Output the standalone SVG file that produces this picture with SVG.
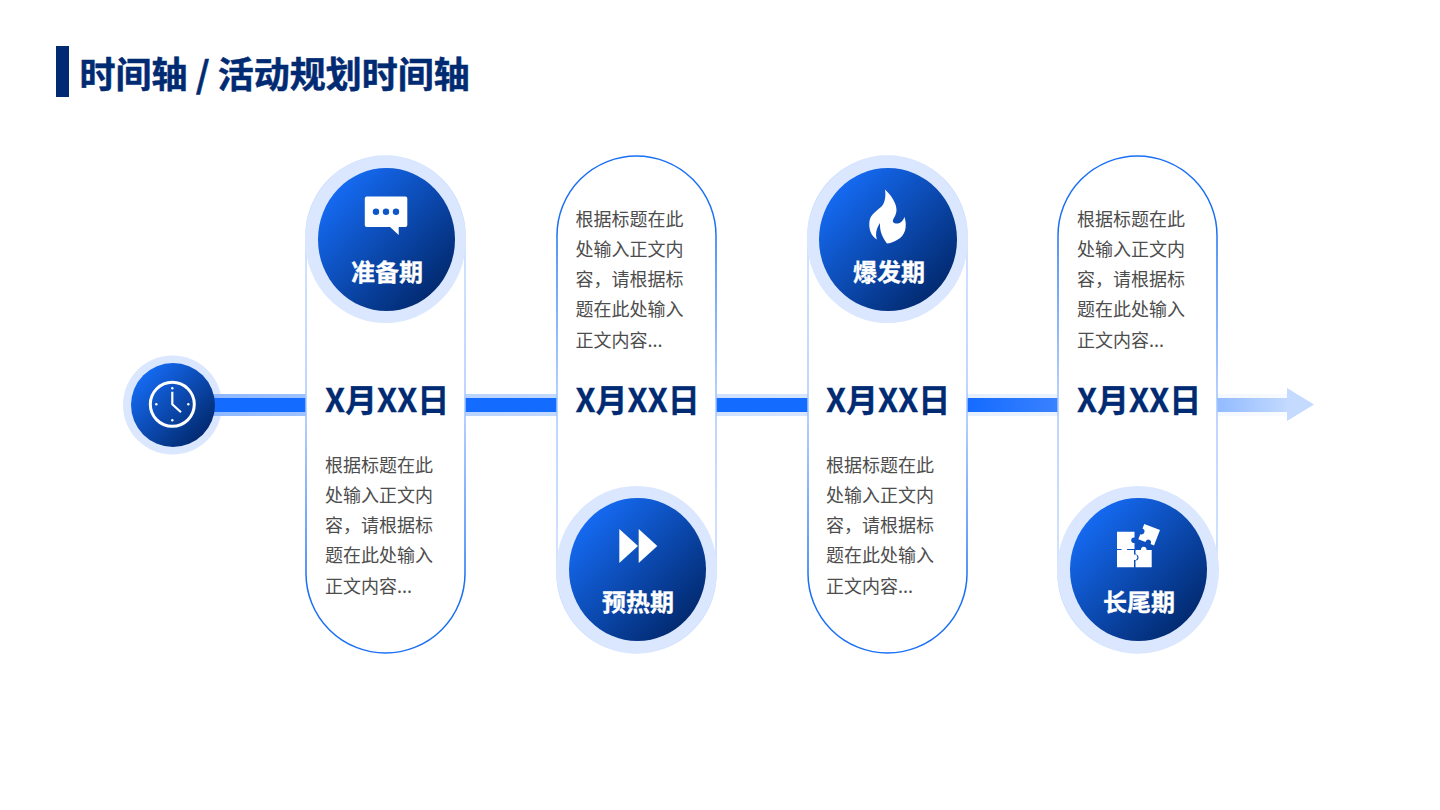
<svg xmlns="http://www.w3.org/2000/svg" width="1440" height="810" viewBox="0 0 1440 810">
<style>
text{font-family:"Noto Sans CJK SC","Noto Sans",sans-serif}
.title{font-size:36px;font-weight:700;fill:#002b73;stroke:#002b73;stroke-width:.5}
.date{font-size:32px;font-weight:700;fill:#002b73;stroke:#002b73;stroke-width:.3}
.body{font-size:18px;fill:#4d4d4d}
.label{font-size:24px;font-weight:700;fill:#fff;stroke:#fff;stroke-width:.3;text-anchor:middle}
.halo{fill:#dae7fe}
.disc{fill:url(#disc)}
.capU{fill:#fff;stroke:url(#edgeUp);stroke-width:1.5}
.capD{fill:#fff;stroke:url(#edgeDown);stroke-width:1.5}
.ico{fill:#fff}
</style>
<defs>
<linearGradient id="disc" x1="0.14" y1="0.14" x2="0.86" y2="0.86"><stop offset="0" stop-color="#156af2"/><stop offset="1" stop-color="#022a70"/></linearGradient>
<linearGradient id="edgeUp" gradientUnits="userSpaceOnUse" x1="0" y1="156" x2="0" y2="653"><stop offset="0" stop-color="#d5e4ff"/><stop offset="0.5" stop-color="#a6c6ff"/><stop offset="0.85" stop-color="#1a6ff5"/><stop offset="1" stop-color="#1a6ff5"/></linearGradient>
<linearGradient id="edgeDown" gradientUnits="userSpaceOnUse" x1="0" y1="156" x2="0" y2="653"><stop offset="0" stop-color="#1a6ff5"/><stop offset="0.15" stop-color="#1a6ff5"/><stop offset="0.5" stop-color="#a6c6ff"/><stop offset="1" stop-color="#d5e4ff"/></linearGradient>
<linearGradient id="band" gradientUnits="userSpaceOnUse" x1="215" y1="0" x2="1290" y2="0"><stop offset="0" stop-color="#8fb8ff"/><stop offset="0.25" stop-color="#bcd5ff"/><stop offset="0.5" stop-color="#d2e3ff"/><stop offset="0.72" stop-color="#e6f0ff"/><stop offset="1" stop-color="#f8fbff"/></linearGradient>
<linearGradient id="core" gradientUnits="userSpaceOnUse" x1="215" y1="0" x2="1290" y2="0"><stop offset="0" stop-color="#146bff"/><stop offset="0.7" stop-color="#146bff"/><stop offset="0.785" stop-color="#3a82ff"/><stop offset="0.935" stop-color="#94bcff"/><stop offset="1" stop-color="#c4daff"/></linearGradient>
</defs>

<g id="title">
<rect x="56" y="46" width="13" height="51" fill="#002b73"/>
<text class="title" x="79.5" y="88">时间轴 / 活动规划时间轴</text>
</g>

<g id="start-halo">
<circle class="halo" cx="172.5" cy="405" r="49.5"/>
</g>

<g id="connectors">
<rect x="172" y="394" width="1115" height="22" fill="url(#band)"/>
<rect x="172" y="398" width="1115" height="14" fill="url(#core)"/>
<polygon points="1287,388 1314,404.5 1287,421" fill="#c4daff"/>
</g>

<g id="start">
<circle class="disc" cx="173" cy="405" r="42"/>
<circle cx="172.3" cy="404.3" r="22" fill="none" stroke="#fff" stroke-width="3"/>
<path d="M172.3 391.7V404.3L181 412.3" fill="none" stroke="#fff" stroke-width="2.2"/>
<g class="ico"><circle cx="172.3" cy="388.3" r="1.2"/><circle cx="188.3" cy="404.3" r="1.2"/><circle cx="172.3" cy="420.3" r="1.2"/><circle cx="156.3" cy="404.3" r="1.2"/></g>
</g>

<g id="stage1">
<rect class="capU" x="306" y="156" width="159" height="497" rx="79.5"/>
<ellipse class="halo" cx="385.5" cy="239.5" rx="80.5" ry="83.5"/>
<ellipse class="disc" cx="386.5" cy="239.5" rx="68.5" ry="71.5"/>
<path class="ico" d="M366.7 196.4H405.4Q407.3 196.4 407.3 198.3V225.1Q407.3 227 405.4 227H398.7V235L390 227H366.7Q364.8 227 364.8 225.1V198.3Q364.8 196.4 366.7 196.4Z"/>
<g fill="#0f56c8"><circle cx="376" cy="211.7" r="3.2"/><circle cx="386" cy="211.7" r="3.2"/><circle cx="396" cy="211.7" r="3.2"/></g>
<text class="label" x="387" y="280.5">准备期</text>
<text class="date" x="325" y="412">X月XX日</text>
<text class="body" x="325" y="471.5">根据标题在此</text>
<text class="body" x="325" y="501.5">处输入正文内</text>
<text class="body" x="325" y="531.5">容，请根据标</text>
<text class="body" x="325" y="561.5">题在此处输入</text>
<text class="body" x="325" y="592.5">正文内容...</text>
</g>

<g id="stage2">
<rect class="capD" x="557" y="156" width="159" height="497" rx="79.5"/>
<ellipse class="halo" cx="636.5" cy="569.5" rx="80.5" ry="83.5"/>
<ellipse class="disc" cx="637.5" cy="569.5" rx="68.5" ry="71.5"/>
<polygon class="ico" points="619.3,529 638,546 619.3,563"/>
<polygon class="ico" points="638.7,529 657.3,546 638.7,563"/>
<text class="label" x="638" y="610.5">预热期</text>
<text class="date" x="575.5" y="412">X月XX日</text>
<text class="body" x="575.5" y="225.5">根据标题在此</text>
<text class="body" x="575.5" y="255.5">处输入正文内</text>
<text class="body" x="575.5" y="285.5">容，请根据标</text>
<text class="body" x="575.5" y="315.5">题在此处输入</text>
<text class="body" x="575.5" y="346.5">正文内容...</text>
</g>

<g id="stage3">
<rect class="capU" x="808" y="156" width="159" height="497" rx="79.5"/>
<ellipse class="halo" cx="887.5" cy="239.5" rx="80.5" ry="83.5"/>
<ellipse class="disc" cx="888" cy="239.5" rx="69" ry="71.5"/>
<path class="ico" d="M885 189.5C891 195 896.5 203 896.5 210C896.5 216 892 219 893 222C896 225 902 224 904.5 217C907.5 226 905.5 236 897 240C893 242 890 243.5 887 243.5C883 238 879.5 232 880 223C876.5 228 875 234 877 239.5C870.5 236 868.5 228 869.5 221C870.5 214 878 210 882 206C885 202 886 196 885 189.5Z"/>
<text class="label" x="889" y="280.5">爆发期</text>
<text class="date" x="826" y="412">X月XX日</text>
<text class="body" x="826" y="471.5">根据标题在此</text>
<text class="body" x="826" y="501.5">处输入正文内</text>
<text class="body" x="826" y="531.5">容，请根据标</text>
<text class="body" x="826" y="561.5">题在此处输入</text>
<text class="body" x="826" y="592.5">正文内容...</text>
</g>

<g id="stage4">
<rect class="capD" x="1058" y="156" width="159" height="497" rx="79.5"/>
<ellipse class="halo" cx="1138" cy="569.5" rx="81" ry="83.5"/>
<ellipse class="disc" cx="1138.5" cy="569.5" rx="68.5" ry="71.5"/>
<path class="ico" d="M1117 531.7H1134.5V537.500A2.800 2.800 0 1 0 1134.5 543V549H1117Z"/>
<path class="ico" d="M1117 550H1121.500A2.800 2.800 0 1 1 1127 550H1134V554.500A2.800 2.800 0 1 1 1134 560V567.300H1117Z"/>
<path class="ico" d="M1135.500 550H1141A2.800 2.800 0 1 1 1146.500 550H1151.700V567.300H1135.500V560.500A2.800 2.800 0 1 0 1135.500 554.500Z"/>
<path class="ico" d="M1144.300 524L1160 530L1154 545.500L1150.500 544A2.800 2.800 0 1 0 1145.500 542L1138.300 539.200L1140.300 534.200A2.800 2.800 0 1 0 1142.500 528.500Z"/>
<text class="label" x="1139" y="610.5">长尾期</text>
<text class="date" x="1077" y="412">X月XX日</text>
<text class="body" x="1077" y="225.5">根据标题在此</text>
<text class="body" x="1077" y="255.5">处输入正文内</text>
<text class="body" x="1077" y="285.5">容，请根据标</text>
<text class="body" x="1077" y="315.5">题在此处输入</text>
<text class="body" x="1077" y="346.5">正文内容...</text>
</g>
</svg>
